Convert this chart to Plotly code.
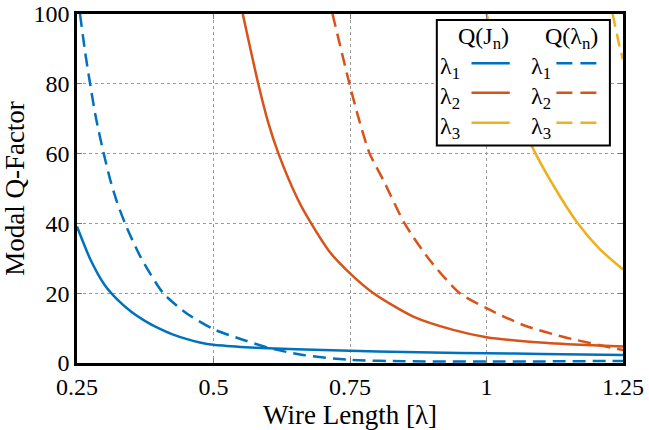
import plotly.graph_objects as go

# ---- data ----
x_ticks = [0.25, 0.5, 0.75, 1.0, 1.25]
x_tick_text = ["0.25", "0.5", "0.75", "1", "1.25"]
y_ticks = [0, 20, 40, 60, 80, 100]

j1_x = [0.25, 0.275, 0.3, 0.325, 0.35, 0.375, 0.4, 0.425, 0.45, 0.475, 0.5, 0.55, 0.6, 0.7, 0.8, 0.9, 1.0, 1.1, 1.25]
j1_y = [39.1, 29.5, 22.5, 18.0, 14.6, 12.0, 9.9, 8.2, 6.9, 5.9, 5.2, 4.6, 4.2, 3.7, 3.3, 3.0, 2.8, 2.6, 2.3]

l1_x = [0.2555, 0.265, 0.274, 0.285, 0.299, 0.311, 0.322, 0.338, 0.366, 0.408, 0.451, 0.5, 0.555, 0.604, 0.664, 0.75, 0.85, 1.0, 1.1, 1.25]
l1_y = [100, 89, 80, 70, 60, 52.4, 46.7, 40, 30.5, 20, 14.2, 9.7, 6.6, 4.2, 2.3, 0.9, 0.5, 0.4, 0.45, 0.6]

j2_x = [0.5536, 0.582, 0.6, 0.619, 0.655, 0.677, 0.713, 0.75, 0.793, 0.866, 0.939, 1.0, 1.079, 1.15, 1.25]
j2_y = [100, 80, 69, 60, 46.7, 40.5, 31.8, 25.7, 20, 13.3, 9.5, 7.4, 6.1, 5.4, 4.7]

l2_x = [0.718, 0.749, 0.766, 0.786, 0.811, 0.85, 0.896, 0.951, 1.0, 1.067, 1.14, 1.25]
l2_y = [100, 80, 70, 60, 52.4, 40, 29.5, 20, 15.7, 10.9, 7.5, 3.7]

j3_x = [1.0, 1.04, 1.082, 1.122, 1.165, 1.207, 1.25]
j3_y = [100, 79, 62.5, 51, 40.5, 32.7, 26.8]

l3_x = [1.231, 1.244, 1.25]
l3_y = [100, 90.5, 87]

colors = ["#0072BD", "#D95319", "#EDB120"]
DASH = "13px,7px"
FONT = "Liberation Serif"

fig = go.Figure()
series = [
    (j1_x, j1_y, colors[0], "solid"),
    (l1_x, l1_y, colors[0], DASH),
    (j2_x, j2_y, colors[1], "solid"),
    (l2_x, l2_y, colors[1], DASH),
    (j3_x, j3_y, colors[2], "solid"),
    (l3_x, l3_y, colors[2], DASH),
]
for xs, ys, c, d in series:
    fig.add_trace(go.Scatter(x=xs, y=ys, mode="lines",
                             line=dict(color=c, width=2.5, dash=d,
                                       shape="spline", smoothing=0.7),
                             showlegend=False, hoverinfo="skip"))

# ---- custom two-column legend (paper coordinates) ----
shapes = [dict(type="rect", xref="paper", yref="paper",
               x0=0.659, x1=0.976, y0=0.623, y1=0.983,
               fillcolor="white", line=dict(color="black", width=2),
               layer="above")]
annotations = [
    dict(text="Q(J<sub>n</sub>)", x=0.745, y=0.930),
    dict(text="Q(λ<sub>n</sub>)", x=0.905, y=0.930),
]
row_y = [0.859, 0.7745, 0.6886]
for i, ry in enumerate(row_y):
    annotations.append(dict(text=f"λ<sub>{i+1}</sub>", x=0.684, y=ry - 0.014))
    annotations.append(dict(text=f"λ<sub>{i+1}</sub>", x=0.849, y=ry - 0.014))
    shapes.append(dict(type="line", xref="paper", yref="paper",
                       x0=0.7225, x1=0.7926, y0=ry, y1=ry,
                       line=dict(color=colors[i], width=2.5), layer="above"))
    shapes.append(dict(type="line", xref="paper", yref="paper",
                       x0=0.878, x1=0.952, y0=ry, y1=ry,
                       line=dict(color=colors[i], width=2.5, dash="16px,8px"),
                       layer="above"))
for a in annotations:
    a.update(xref="paper", yref="paper", showarrow=False,
             xanchor="center", yanchor="middle",
             font=dict(family=FONT, size=24, color="black"))

axis_common = dict(showline=True, linecolor="black", linewidth=2.5, mirror="ticks",
                   showgrid=True, gridcolor="#9a9a9a", gridwidth=1, griddash="dot",
                   ticks="inside", ticklen=5, tickcolor="#777777", tickwidth=1,
                   zeroline=False, automargin=False,
                   tickfont=dict(family=FONT, size=24, color="black"))

fig.update_layout(
    width=649, height=430,
    margin=dict(l=77, r=26, t=14, b=67, autoexpand=False),
    font=dict(family=FONT, color="black"),
    paper_bgcolor="white", plot_bgcolor="white",
    shapes=shapes, annotations=annotations,
    xaxis=dict(range=[0.25, 1.25], tickvals=x_ticks, ticktext=x_tick_text,
               title=dict(text="Wire Length [λ]", standoff=4,
                          font=dict(family=FONT, size=27, color="black")),
               **axis_common),
    yaxis=dict(range=[0, 100], tickvals=y_ticks,
               title=dict(text="Modal Q-Factor", standoff=8,
                          font=dict(family=FONT, size=27, color="black")),
               **axis_common),
)

fig.write_html("out.html")
